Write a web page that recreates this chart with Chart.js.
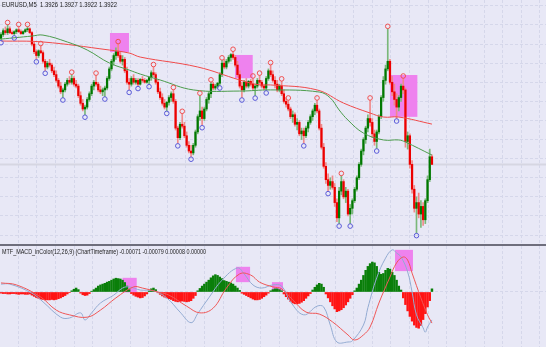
<!DOCTYPE html>
<html>
<head>
<meta charset="utf-8">
<script src="https://cdn.jsdelivr.net/npm/chart.js@4.4.0/dist/chart.umd.min.js"></script>
<style>
  html, body { margin: 0; padding: 0; background: #e8e8f6; }
  #wrap { position: relative; width: 546px; height: 347px; overflow: hidden; }
  canvas { display: block; }
  #sep { height: 2px; background: #6e6e7c; }
</style>
</head>
<body>
<div id="wrap">
  <canvas id="main" width="546" height="244"></canvas>
  <div id="sep"></div>
  <canvas id="macd" width="546" height="101"></canvas>
</div>
<script>
// EURUSD M5 - prices stored as pips above BASE
const BASE = 1.3880
const title = 'EURUSD,M5  1.3926 1.3927 1.3922 1.3922'
const macdTitle = 'MTF_MACD_inColor(12,26,9) (ChartTimeframe) -0.00071 -0.00079 0.00008 0.00000'

const opens = [108,110,112,111,113,111,110.5,111.5,112.5,111.5,110.5,111.5,112.5,113,111,105,101,99,101.5,100.5,
  96,93,95,94,91,89,86,83,80,81,84,86,85,87,84,83,78,74,71,72,
  76,79,83,85,84,81,80,81,82,87,92,96,99,101,99,96,97,91,85,84,
  87,85,86,84,86.5,86,85,86,87.5,90,89,85,80,77,74,72,74.5,77,79,75,
  61,56,63,62,57,52,49,48,52,59,67,70,66,71,76,79,84,82,83,84.5,
  89,95,93,96,98,99.5,98,94,89,83,81,85,83,85.5,84,82,83,86,85,83,
  82,87,91,89,86,84,81,83,79,75,73.5,71,67,68,63,64,58,59.5,57,61,
  64,67,70,73,70,61,51,41,34,31,33,30,22,14,28,33,25,28,16,19,
  23,29,35,42,49,55,61,66,64,58,54,59,67,77,86,92,96,85,80,76,
  72,77,83,81,54,57,42,29,19,22,16,20,13,23,34,46]
const highs = [111,113,114,115,114,112,112,113,114,112.5,112,113,114,113.5,111.5,106,102,102,104,101.5,
  97,96,97,95,93,91,87,85,82,85,87,88,89,88,86,84,80,76,73,77,
  80,84,86,88.5,85,83,82,83,88,93,97,100,103,105,101,99,98,93,87,88,
  89,87,87,87,88,87,86.5,88,91,93,90,86,82,79,76,75,78,80,81,76,
  62,64,68.5,64,59,54,52,53,60,68,78,72,72,77,80,85,85,84,85,90,
  96.5,97,97,99,100,101,99,96,91,85,86,87,86,86.5,87,84,87,88.5,86,84,
  88,92,94,91,88,86,84,85.5,81,77,75.5,72,70,69,66,65,61,61,62,65,
  68,71,74,75.5,71,63,53,43,37,35,36,32,24,30,36,34,30,29,21,24,
  30,36,43,50,56,62,68,75.5,66,60,60,68,78,88,94,113,97,88,84,79,
  78,84,87,82,59,58,44,31,25,27,23,22,24,36,50,47]
const lows = [107,109,110,110,110.5,110,109.5,110.5,111,110,110,111,111.5,110.5,104,100,97,98,100,95,
  91,92,93,90,88,85,82,79,77,80,83,84,84,83,82,77,73,70,68,71,
  75,78,81,83,80,79,78,77.5,81,86,91,94,97,98,95,94,90,84,81,83,
  84,84,83,83.5,85,84.5,84.5,84,86,88,84,79,76,73,71,70,73,75,74,60,
  53,55,61,56,51,48,46,47,51,58,65,62.5,65,70,74,77,81,81,82,83.3,
  88,92,92,95,96,97,93,88,82,77,80,82,82,83,81,78,82,84,82,81,
  80.7,86,88,85,82,80,80,78,74,72,70,66,64,62,60,57,55,53,56,59,
  63,65,68,69,60,50,40,32,28,29,29,20,12,11,26,24,22,15,11,16,
  22,28,34,41,47,53,59,62,56,52,50.3,58,66,75,84,91,84,78,73,66,
  70,75,79,51,50,40,27,17,6,14,9,10,11,22,33,42]
const closes = [110,112,111,113,111,110.5,111.5,112.5,111.5,110.5,111.5,112.5,113,111,105,101,99,101.5,100.5,96,
  93,95,94,91,89,86,83,80,81,84,86,85,87,84,83,78,74,71,72,76,
  79,83,85,84,81,80,81,82,87,92,96,99,101,99,96,97,91,85,84,87,
  85,86,84,86.5,86,85,86,87.5,90,89,85,80,77,74,72,74.5,77,79,75,61,
  56,63,62,57,52,49,48,52,59,67,70,66,71,76,79,84,82,83,84.5,89,
  95,93,96,98,99.5,98,94,89,83,81,85,83,85.5,84,82,83,86,85,83,82,
  87,91,89,86,84,81,83,79,75,73.5,71,67,68,63,64,58,59.5,57,61,64,
  67,70,73,70,61,51,41,34,31,33,30,22,14,28,33,25,28,16,19,23,
  29,35,42,49,55,61,66,64,58,54,59,67,77,86,92,96,85,80,76,72,
  77,83,81,54,57,42,29,19,22,16,20,13,23,34,46,42]

// fractal bars
const fractalUp = [3,8,12,18,32,43,53,69,78,82,90,95,100,105,114,117,122,127,130,143,154,167,175,182]
const fractalDown = [0,6,16,20,28,38,47,58,62,67,75,80,86,91,99,109,115,120,137,148,153,158,170,179,188]

// moving averages, read at these bars (pips above BASE)
const maFastAt = [0,14,19,30,39,49,58,63,72,87,108,122,144,149,153,157,164,173,180,183,195]
const maFast = [107.6,109.2,109.7,106.1,101.9,95.1,91.4,89.3,86.2,81,80.4,81,79.9,76.8,70.5,65.2,58.4,54.8,54.8,53.7,46.9]
const maSlowAt = [0,19,49,58,63,89,108,117,122,143,155,167,173,180,195]
const maSlow = [106.6,106.1,101.9,100.3,98.2,93,86.2,83.6,83.6,81,74.1,68.9,66.8,66.8,63.1]

// highlighted zones: [fromBar, toBar, top, bottom] in pips
const zones = [[49.3, 57.9, 110.8, 100.8], [105.9, 113.9, 99.3, 87.1], [176, 188.4, 88.8, 66.9]]

// MACD in points (0.00001)
const hist = [-3,-4,-4,-5,-5,-4,-4,-5,-6,-5,-5,-6,-6,-5,-8,-11,-14,-16,-18,-19,
  -20,-20,-20,-19,-20,-19,-17,-15,-12,-9,-5,-1,3,7,10,6,-3,-7,-9,-8,
  -4,2,6,10,15,18,20,22,25,27,30,33,35,34,33,30,24,15,6,-4,
  -8,-11,-13,-15,-14,-10,-5,3,8,10,6,-2,-6,-10,-13,-15,-17,-19,-22,-24,
  -25,-24,-23,-24,-25,-24,-22,-16,-9,3,9,15,20,25,30,36,41,44,42,38,
  34,29,27,25,23,20,15,10,4,-3,-6,-9,-12,-15,-18,-20,-20,-19,-16,-12,
  -8,-3,3,6,8,8,6,3,-5,-12,-18,-24,-28,-30,-30,-29,-26,-22,-16,-10,
  -4,5,12,18,22,20,12,-5,-15,-25,-35,-43,-50,-48,-45,-40,-33,-25,-16,-7,
  3,10,20,30,42,55,65,72,76,74,65,50,45,47,55,60,58,50,42,30,
  15,5,-15,-32,-48,-62,-74,-84,-90,-92,-85,-70,-55,-38,-22,8]
const macdAt = [0,4,14,19,27,31,36,38,41,45,51,55,58,63,69,75,81,86,89,94,100,107,110,114,118,123,127,131,137,143,146,149,152,157,159,164,166,170,174,177,179,181,184,186,188,191,192,193,195]
const macdLine = [20,20,-3,-25,-64,-66,-53,-71,-53,-28,-8,10,13,5,3,-15,-51,-78,-55,-15,30,61,46,18,10,18,15,-25,-58,-36,-38,-84,-127,-127,-124,-84,-40,36,86,107,99,89,51,0,-58,-91,-102,-89,-71]
const signalAt = [0,7,18,25,31,39,45,52,60,64,71,76,84,90,96,102,108,113,117,123,127,132,138,144,150,157,160,164,167,171,176,179,182,184,186,190,193,195]
const signalLine = [23,18,-13,-46,-58,-64,-46,-15,13,10,0,-8,-36,-53,-41,10,46,43,25,13,8,-20,-51,-56,-76,-109,-122,-109,-89,-28,38,74,89,81,48,-15,-58,-79]
const macdZones = [[55, 61.4, 36, -1], [106.3, 112.7, 64, 25], [122.6, 127.6, 25, 3], [178.3, 186.4, 107, 53]]

const price = p => BASE + p / 10000
const pts = v => v / 100000
const bars = closes.map((c, i) => i)
const bull = closes.map((c, i) => c >= opens[i])

const GRID = '#d5d7ea'
const X_MIN = -0.45
const X_MAX = 246.6
const gridX = []
for (let k = 0; k < 29; k++) gridX.push(7.83 + 8.43 * k)
const gridY = []
for (let p = 5; p <= 125; p += 10) gridY.push(price(p))

const xAxis = () => ({
  type: 'linear', min: X_MIN, max: X_MAX, offset: false,
  ticks: { display: false },
  grid: { color: GRID, lineWidth: 1, drawTicks: false, offset: false },
  border: { display: false, dash: [3, 2] },
  afterBuildTicks: s => { s.ticks = gridX.map(v => ({ value: v })) }
})

const caption = (text, y, maxW) => ({
  id: 'caption',
  afterDraw(chart) {
    const ctx = chart.ctx
    ctx.save()
    ctx.font = '7px "Liberation Sans", Arial, sans-serif'
    ctx.fillStyle = '#1c1c1c'
    ctx.fillText(text, 2, y, maxW)
    ctx.restore()
  }
})

const zonePlugin = (list, conv) => ({
  id: 'zones',
  beforeDatasetsDraw(chart) {
    const { ctx, scales: { x, y } } = chart
    ctx.save()
    ctx.fillStyle = '#ee82ee'
    list.forEach(z => {
      const x1 = x.getPixelForValue(z[0])
      const x2 = x.getPixelForValue(z[1])
      const y1 = y.getPixelForValue(conv(z[2]))
      const y2 = y.getPixelForValue(conv(z[3]))
      ctx.fillRect(x1, y1, x2 - x1, y2 - y1)
    })
    ctx.restore()
  }
})

const bidLine = {
  id: 'bidLine',
  beforeDatasetsDraw(chart) {
    const { ctx, chartArea, scales: { y } } = chart
    const py = y.getPixelForValue(price(closes[closes.length - 1]))
    ctx.save()
    ctx.strokeStyle = '#d6d6e2'
    ctx.lineWidth = 2
    ctx.beginPath()
    ctx.moveTo(chartArea.left, py)
    ctx.lineTo(chartArea.right, py)
    ctx.stroke()
    ctx.restore()
  }
}

const common = {
  responsive: false,
  animation: false,
  devicePixelRatio: 1,
  events: [],
  layout: { padding: 0, autoPadding: false },
  plugins: { legend: { display: false }, tooltip: { enabled: false } }
}

new Chart(document.getElementById('main'), {
  type: 'bar',
  data: {
    datasets: [
      {
        type: 'line', label: 'fractal up', order: 1, showLine: false,
        data: fractalUp.map(i => ({ x: i, y: price(highs[i] + 1.3) })),
        pointStyle: 'circle', pointRadius: 2.3, pointBorderWidth: 1,
        pointBorderColor: '#f05050', pointBackgroundColor: 'rgba(0,0,0,0)'
      },
      {
        type: 'line', label: 'fractal down', order: 2, showLine: false,
        data: fractalDown.map(i => ({ x: i, y: price(lows[i] - 1.3) })),
        pointStyle: 'circle', pointRadius: 2.3, pointBorderWidth: 1,
        pointBorderColor: '#5a5ad8', pointBackgroundColor: 'rgba(0,0,0,0)'
      },
      {
        type: 'line', label: 'MA fast', order: 3,
        data: maFastAt.map((i, k) => ({ x: i, y: price(maFast[k]) })),
        borderColor: '#4c9c4c', borderWidth: 1, pointRadius: 0, tension: 0.4
      },
      {
        type: 'line', label: 'MA slow', order: 4,
        data: maSlowAt.map((i, k) => ({ x: i, y: price(maSlow[k]) })),
        borderColor: '#f04a4a', borderWidth: 1, pointRadius: 0, tension: 0.4
      },
      {
        label: 'body', order: 5, grouped: false, barThickness: 1.6, minBarLength: 1,
        data: bars.map(i => ({ x: i, y: [price(opens[i]), price(closes[i])] })),
        backgroundColor: bull.map(b => b ? '#007800' : '#ec0000')
      },
      {
        label: 'wick', order: 6, grouped: false, barThickness: 1,
        data: bars.map(i => ({ x: i, y: [price(lows[i]), price(highs[i])] })),
        backgroundColor: bull.map(b => b ? '#7ab87a' : '#f08a8a')
      }
    ]
  },
  options: {
    ...common,
    scales: {
      x: xAxis(),
      y: {
        min: price(0.32), max: price(128.08),
        ticks: { display: false },
        grid: { color: GRID, lineWidth: 1, drawTicks: false },
        border: { display: false, dash: [3, 2] },
        afterBuildTicks: s => { s.ticks = gridY.map(v => ({ value: v })) }
      }
    }
  },
  plugins: [zonePlugin(zones, price), bidLine, caption(title, 6.5, 115)]
})

new Chart(document.getElementById('macd'), {
  type: 'bar',
  data: {
    datasets: [
      {
        type: 'line', label: 'signal', order: 1,
        data: signalAt.map((i, k) => ({ x: i, y: pts(signalLine[k]) })),
        borderColor: '#ef5757', borderWidth: 1, pointRadius: 0, tension: 0.4
      },
      {
        type: 'line', label: 'MACD', order: 2,
        data: macdAt.map((i, k) => ({ x: i, y: pts(macdLine[k]) })),
        borderColor: '#93abd2', borderWidth: 1, pointRadius: 0, tension: 0.4
      },
      {
        label: 'histogram', order: 3, grouped: false, barThickness: 1.8,
        data: bars.map(i => ({ x: i, y: pts(hist[i]) })),
        backgroundColor: hist.map(v => v >= 0 ? '#0a7f0a' : '#ff1414')
      }
    ]
  },
  options: {
    ...common,
    scales: {
      x: xAxis(),
      y: {
        min: pts(-139.7), max: pts(116.8),
        ticks: { display: false },
        grid: { color: GRID, lineWidth: 1, drawTicks: false },
        border: { display: false, dash: [3, 2] },
        afterBuildTicks: s => { s.ticks = [{ value: 0 }] }
      }
    }
  },
  plugins: [zonePlugin(macdZones, pts), caption(macdTitle, 7.5, 204)]
})
</script>
</body>
</html>
